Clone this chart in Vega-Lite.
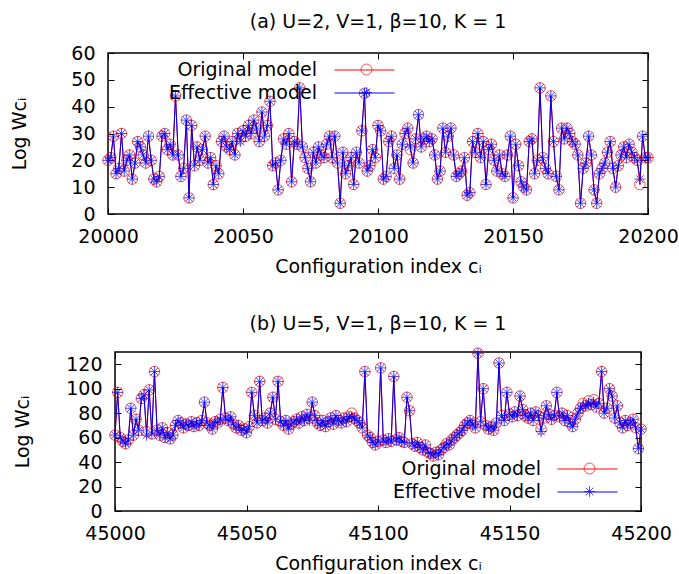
{
"$schema": "https://vega.github.io/schema/vega-lite/v6.json",
"padding": {"left": 10, "top": 12, "right": 4, "bottom": 2},
"config": {
  "font": "DejaVu Sans",
  "view": {"stroke": "black", "strokeWidth": 1.5},
  "axis": {"grid": false, "domain": false, "tickSize": -6, "tickColor": "black", "tickWidth": 1, "labelFontSize": 19, "labelColor": "black", "labelFlush": false, "labelOverlap": false, "titleFontSize": 19, "titleFontWeight": "normal", "titleColor": "black", "labelFont": "DejaVu Sans", "titleFont": "DejaVu Sans"},
  "title": {"fontSize": 19, "fontWeight": "normal", "color": "black", "offset": 12, "font": "DejaVu Sans"},
  "legend": {"orient": "none", "labelFontSize": 19, "labelColor": "black", "labelFont": "DejaVu Sans", "labelLimit": 400, "rowPadding": 3, "padding": 0, "symbolStrokeWidth": 1}
},
"datasets": {
"a": [
{"i":20000,"o":20,"e":20},{"i":20001,"o":21,"e":21},{"i":20002,"o":29,"e":29},{"i":20003,"o":15,"e":15},{"i":20004,"o":17,"e":17},{"i":20005,"o":30,"e":30},{"i":20006,"o":16,"e":16},{"i":20007,"o":20,"e":20},{"i":20008,"o":22,"e":22},{"i":20009,"o":13,"e":13},
{"i":20010,"o":19,"e":19},{"i":20011,"o":27,"e":27},{"i":20012,"o":25,"e":25},{"i":20013,"o":22,"e":22},{"i":20014,"o":19,"e":19},{"i":20015,"o":29,"e":29},{"i":20016,"o":20,"e":20},{"i":20017,"o":13,"e":13},{"i":20018,"o":12,"e":12},{"i":20019,"o":14,"e":14},
{"i":20020,"o":29,"e":29},{"i":20021,"o":30,"e":30},{"i":20022,"o":24,"e":24},{"i":20023,"o":26,"e":26},{"i":20024,"o":22,"e":22},{"i":20025,"o":44,"e":44},{"i":20026,"o":22,"e":22},{"i":20027,"o":14,"e":14},{"i":20028,"o":17,"e":17},{"i":20029,"o":35,"e":35},
{"i":20030,"o":6,"e":6},{"i":20031,"o":33,"e":33},{"i":20032,"o":18,"e":18},{"i":20033,"o":25,"e":25},{"i":20034,"o":20,"e":20},{"i":20035,"o":24,"e":24},{"i":20036,"o":29,"e":29},{"i":20037,"o":19,"e":19},{"i":20038,"o":21,"e":21},{"i":20039,"o":11,"e":11},
{"i":20040,"o":18,"e":18},{"i":20041,"o":15,"e":15},{"i":20042,"o":27,"e":27},{"i":20043,"o":29,"e":29},{"i":20044,"o":25,"e":25},{"i":20045,"o":24,"e":24},{"i":20046,"o":27,"e":27},{"i":20047,"o":22,"e":22},{"i":20048,"o":30,"e":30},{"i":20049,"o":28,"e":27},
{"i":20050,"o":31,"e":31},{"i":20051,"o":29,"e":29},{"i":20052,"o":33,"e":33},{"i":20053,"o":30,"e":30},{"i":20054,"o":35,"e":35},{"i":20055,"o":32,"e":32},{"i":20056,"o":27,"e":27},{"i":20057,"o":38,"e":38},{"i":20058,"o":29,"e":29},{"i":20059,"o":33,"e":33},
{"i":20060,"o":42,"e":42},{"i":20061,"o":18,"e":18},{"i":20062,"o":19,"e":19},{"i":20063,"o":9,"e":9},{"i":20064,"o":20,"e":20},{"i":20065,"o":28,"e":28},{"i":20066,"o":26,"e":26},{"i":20067,"o":30,"e":30},{"i":20068,"o":12,"e":12},{"i":20069,"o":27,"e":27},
{"i":20070,"o":26,"e":26},{"i":20071,"o":47,"e":47},{"i":20072,"o":25,"e":25},{"i":20073,"o":21,"e":21},{"i":20074,"o":17,"e":17},{"i":20075,"o":12,"e":12},{"i":20076,"o":23,"e":23},{"i":20077,"o":19,"e":19},{"i":20078,"o":25,"e":25},{"i":20079,"o":22,"e":22},
{"i":20080,"o":21,"e":21},{"i":20081,"o":26,"e":26},{"i":20082,"o":29,"e":29},{"i":20083,"o":21,"e":21},{"i":20084,"o":29,"e":29},{"i":20085,"o":19,"e":19},{"i":20086,"o":4,"e":4},{"i":20087,"o":23,"e":23},{"i":20088,"o":15,"e":15},{"i":20089,"o":18,"e":18},
{"i":20090,"o":21,"e":21},{"i":20091,"o":11,"e":11},{"i":20092,"o":23,"e":23},{"i":20093,"o":19,"e":19},{"i":20094,"o":31,"e":31},{"i":20095,"o":45,"e":45},{"i":20096,"o":16,"e":16},{"i":20097,"o":18,"e":18},{"i":20098,"o":24,"e":24},{"i":20099,"o":21,"e":21},
{"i":20100,"o":33,"e":33},{"i":20101,"o":31,"e":31},{"i":20102,"o":13,"e":13},{"i":20103,"o":14,"e":14},{"i":20104,"o":27,"e":27},{"i":20105,"o":29,"e":29},{"i":20106,"o":17,"e":17},{"i":20107,"o":22,"e":22},{"i":20108,"o":13,"e":13},{"i":20109,"o":26,"e":26},
{"i":20110,"o":30,"e":30},{"i":20111,"o":32,"e":32},{"i":20112,"o":24,"e":25},{"i":20113,"o":19,"e":19},{"i":20114,"o":28,"e":28},{"i":20115,"o":37,"e":37},{"i":20116,"o":25,"e":25},{"i":20117,"o":28,"e":28},{"i":20118,"o":29,"e":29},{"i":20119,"o":27,"e":27},
{"i":20120,"o":28,"e":28},{"i":20121,"o":22,"e":22},{"i":20122,"o":13,"e":13},{"i":20123,"o":16,"e":16},{"i":20124,"o":32,"e":32},{"i":20125,"o":23,"e":23},{"i":20126,"o":29,"e":29},{"i":20127,"o":32,"e":32},{"i":20128,"o":22,"e":22},{"i":20129,"o":14,"e":14},
{"i":20130,"o":15,"e":15},{"i":20131,"o":16,"e":16},{"i":20132,"o":21,"e":21},{"i":20133,"o":7,"e":7},{"i":20134,"o":8,"e":8},{"i":20135,"o":27,"e":27},{"i":20136,"o":23,"e":23},{"i":20137,"o":30,"e":30},{"i":20138,"o":21,"e":21},{"i":20139,"o":27,"e":27},
{"i":20140,"o":11,"e":11},{"i":20141,"o":24,"e":24},{"i":20142,"o":26,"e":26},{"i":20143,"o":20,"e":20},{"i":20144,"o":16,"e":16},{"i":20145,"o":22,"e":22},{"i":20146,"o":15,"e":15},{"i":20147,"o":14,"e":14},{"i":20148,"o":22,"e":22},{"i":20149,"o":29,"e":29},
{"i":20150,"o":6,"e":6},{"i":20151,"o":26,"e":26},{"i":20152,"o":18,"e":18},{"i":20153,"o":12,"e":12},{"i":20154,"o":10,"e":10},{"i":20155,"o":9,"e":9},{"i":20156,"o":27,"e":27},{"i":20157,"o":28,"e":28},{"i":20158,"o":15,"e":15},{"i":20159,"o":20,"e":20},
{"i":20160,"o":47,"e":47},{"i":20161,"o":21,"e":21},{"i":20162,"o":17,"e":17},{"i":20163,"o":15,"e":15},{"i":20164,"o":44,"e":44},{"i":20165,"o":27,"e":27},{"i":20166,"o":14,"e":14},{"i":20167,"o":9,"e":9},{"i":20168,"o":32,"e":32},{"i":20169,"o":28,"e":28},
{"i":20170,"o":32,"e":32},{"i":20171,"o":30,"e":30},{"i":20172,"o":27,"e":27},{"i":20173,"o":26,"e":26},{"i":20174,"o":22,"e":22},{"i":20175,"o":4,"e":4},{"i":20176,"o":17,"e":17},{"i":20177,"o":19,"e":19},{"i":20178,"o":29,"e":29},{"i":20179,"o":22,"e":22},
{"i":20180,"o":9,"e":9},{"i":20181,"o":4,"e":4},{"i":20182,"o":15,"e":15},{"i":20183,"o":17,"e":17},{"i":20184,"o":19,"e":19},{"i":20185,"o":23,"e":23},{"i":20186,"o":27,"e":27},{"i":20187,"o":17,"e":17},{"i":20188,"o":10,"e":10},{"i":20189,"o":18,"e":18},
{"i":20190,"o":22,"e":22},{"i":20191,"o":25,"e":25},{"i":20192,"o":21,"e":21},{"i":20193,"o":26,"e":26},{"i":20194,"o":23,"e":23},{"i":20195,"o":21,"e":21},{"i":20196,"o":20,"e":20},{"i":20197,"o":11,"e":13},{"i":20198,"o":29,"e":29},{"i":20199,"o":21,"e":21},
{"i":20200,"o":21,"e":21}
],
"b": [
{"i":45000,"o":62,"e":62},{"i":45001,"o":97,"e":97},{"i":45002,"o":60,"e":60},{"i":45003,"o":57,"e":57},{"i":45004,"o":55,"e":55},{"i":45005,"o":58,"e":58},{"i":45006,"o":84,"e":84},{"i":45007,"o":62,"e":62},{"i":45008,"o":75,"e":75},{"i":45009,"o":66,"e":66},
{"i":45010,"o":92,"e":92},{"i":45011,"o":95,"e":95},{"i":45012,"o":65,"e":62},{"i":45013,"o":99,"e":99},{"i":45014,"o":63,"e":63},{"i":45015,"o":114,"e":114},{"i":45016,"o":66,"e":66},{"i":45017,"o":62,"e":62},{"i":45018,"o":68,"e":68},{"i":45019,"o":60,"e":60},
{"i":45020,"o":64,"e":64},{"i":45021,"o":59,"e":59},{"i":45022,"o":62,"e":62},{"i":45023,"o":70,"e":70},{"i":45024,"o":74,"e":74},{"i":45025,"o":72,"e":72},{"i":45026,"o":68,"e":68},{"i":45027,"o":71,"e":71},{"i":45028,"o":70,"e":70},{"i":45029,"o":73,"e":73},
{"i":45030,"o":69,"e":69},{"i":45031,"o":72,"e":72},{"i":45032,"o":70,"e":70},{"i":45033,"o":74,"e":74},{"i":45034,"o":89,"e":89},{"i":45035,"o":72,"e":72},{"i":45036,"o":70,"e":70},{"i":45037,"o":67,"e":67},{"i":45038,"o":73,"e":73},{"i":45039,"o":72,"e":72},
{"i":45040,"o":75,"e":75},{"i":45041,"o":101,"e":101},{"i":45042,"o":76,"e":76},{"i":45043,"o":74,"e":74},{"i":45044,"o":77,"e":77},{"i":45045,"o":71,"e":71},{"i":45046,"o":68,"e":68},{"i":45047,"o":70,"e":70},{"i":45048,"o":66,"e":66},{"i":45049,"o":67,"e":67},
{"i":45050,"o":64,"e":64},{"i":45051,"o":69,"e":69},{"i":45052,"o":97,"e":97},{"i":45053,"o":78,"e":78},{"i":45054,"o":72,"e":72},{"i":45055,"o":106,"e":106},{"i":45056,"o":74,"e":74},{"i":45057,"o":76,"e":76},{"i":45058,"o":72,"e":72},{"i":45059,"o":80,"e":80},
{"i":45060,"o":93,"e":93},{"i":45061,"o":75,"e":75},{"i":45062,"o":106,"e":106},{"i":45063,"o":73,"e":73},{"i":45064,"o":70,"e":70},{"i":45065,"o":74,"e":74},{"i":45066,"o":67,"e":67},{"i":45067,"o":71,"e":71},{"i":45068,"o":73,"e":73},{"i":45069,"o":75,"e":75},
{"i":45070,"o":72,"e":72},{"i":45071,"o":77,"e":77},{"i":45072,"o":74,"e":74},{"i":45073,"o":79,"e":79},{"i":45074,"o":76,"e":74},{"i":45075,"o":89,"e":89},{"i":45076,"o":78,"e":78},{"i":45077,"o":72,"e":72},{"i":45078,"o":70,"e":70},{"i":45079,"o":74,"e":74},
{"i":45080,"o":69,"e":69},{"i":45081,"o":73,"e":73},{"i":45082,"o":76,"e":76},{"i":45083,"o":71,"e":71},{"i":45084,"o":78,"e":78},{"i":45085,"o":74,"e":74},{"i":45086,"o":72,"e":72},{"i":45087,"o":76,"e":76},{"i":45088,"o":73,"e":73},{"i":45089,"o":77,"e":77},
{"i":45090,"o":80,"e":77},{"i":45091,"o":76,"e":76},{"i":45092,"o":74,"e":74},{"i":45093,"o":72,"e":72},{"i":45094,"o":68,"e":68},{"i":45095,"o":114,"e":114},{"i":45096,"o":62,"e":62},{"i":45097,"o":60,"e":60},{"i":45098,"o":56,"e":56},{"i":45099,"o":54,"e":54},
{"i":45100,"o":57,"e":57},{"i":45101,"o":117,"e":117},{"i":45102,"o":58,"e":58},{"i":45103,"o":56,"e":56},{"i":45104,"o":59,"e":59},{"i":45105,"o":57,"e":57},{"i":45106,"o":110,"e":110},{"i":45107,"o":58,"e":58},{"i":45108,"o":60,"e":60},{"i":45109,"o":57,"e":57},
{"i":45110,"o":56,"e":56},{"i":45111,"o":93,"e":93},{"i":45112,"o":82,"e":82},{"i":45113,"o":55,"e":55},{"i":45114,"o":53,"e":53},{"i":45115,"o":56,"e":56},{"i":45116,"o":52,"e":52},{"i":45117,"o":50,"e":50},{"i":45118,"o":54,"e":54},{"i":45119,"o":48,"e":48},
{"i":45120,"o":47,"e":47},{"i":45121,"o":45,"e":45},{"i":45122,"o":48,"e":48},{"i":45123,"o":46,"e":46},{"i":45124,"o":50,"e":50},{"i":45125,"o":52,"e":52},{"i":45126,"o":55,"e":55},{"i":45127,"o":54,"e":54},{"i":45128,"o":58,"e":58},{"i":45129,"o":60,"e":60},
{"i":45130,"o":62,"e":62},{"i":45131,"o":64,"e":64},{"i":45132,"o":66,"e":66},{"i":45133,"o":70,"e":70},{"i":45134,"o":72,"e":72},{"i":45135,"o":74,"e":74},{"i":45136,"o":71,"e":71},{"i":45137,"o":68,"e":68},{"i":45138,"o":129,"e":129},{"i":45139,"o":73,"e":73},
{"i":45140,"o":100,"e":100},{"i":45141,"o":70,"e":70},{"i":45142,"o":67,"e":67},{"i":45143,"o":69,"e":69},{"i":45144,"o":66,"e":66},{"i":45145,"o":72,"e":72},{"i":45146,"o":121,"e":121},{"i":45147,"o":78,"e":78},{"i":45148,"o":74,"e":74},{"i":45149,"o":97,"e":97},
{"i":45150,"o":79,"e":79},{"i":45151,"o":77,"e":77},{"i":45152,"o":81,"e":81},{"i":45153,"o":78,"e":78},{"i":45154,"o":94,"e":94},{"i":45155,"o":83,"e":83},{"i":45156,"o":78,"e":78},{"i":45157,"o":76,"e":76},{"i":45158,"o":80,"e":80},{"i":45159,"o":74,"e":74},
{"i":45160,"o":81,"e":81},{"i":45161,"o":78,"e":78},{"i":45162,"o":67,"e":65},{"i":45163,"o":76,"e":76},{"i":45164,"o":86,"e":86},{"i":45165,"o":79,"e":79},{"i":45166,"o":75,"e":75},{"i":45167,"o":78,"e":78},{"i":45168,"o":97,"e":97},{"i":45169,"o":77,"e":77},
{"i":45170,"o":80,"e":80},{"i":45171,"o":74,"e":74},{"i":45172,"o":78,"e":78},{"i":45173,"o":72,"e":72},{"i":45174,"o":69,"e":69},{"i":45175,"o":75,"e":75},{"i":45176,"o":80,"e":80},{"i":45177,"o":84,"e":84},{"i":45178,"o":88,"e":86},{"i":45179,"o":86,"e":86},
{"i":45180,"o":90,"e":88},{"i":45181,"o":87,"e":87},{"i":45182,"o":91,"e":89},{"i":45183,"o":85,"e":85},{"i":45184,"o":88,"e":88},{"i":45185,"o":114,"e":114},{"i":45186,"o":80,"e":80},{"i":45187,"o":84,"e":84},{"i":45188,"o":100,"e":100},{"i":45189,"o":94,"e":94},
{"i":45190,"o":76,"e":76},{"i":45191,"o":86,"e":86},{"i":45192,"o":72,"e":72},{"i":45193,"o":68,"e":68},{"i":45194,"o":74,"e":74},{"i":45195,"o":70,"e":70},{"i":45196,"o":72,"e":72},{"i":45197,"o":75,"e":75},{"i":45198,"o":68,"e":68},{"i":45199,"o":51,"e":51},
{"i":45200,"o":67,"e":67}
]
},
"columns": 1,
"center": true,
"spacing": 36,
"concat": [
{
  "title": "(a) U=2, V=1, β=10, K = 1",
  "width": 540, "height": 161,
  "data": {"name": "a"},
  "layer": [
    {"mark": {"type": "line", "strokeWidth": 1},
     "encoding": {
       "x": {"field": "i", "type": "quantitative", "scale": {"domain": [20000, 20200], "nice": false, "zero": false}, "axis": {"values": [20000, 20050, 20100, 20150, 20200], "format": "d", "title": "Configuration index cᵢ", "labelPadding": 19, "titlePadding": 11}},
       "y": {"field": "o", "type": "quantitative", "scale": {"domain": [0, 60], "nice": false}, "axis": {"values": [0, 10, 20, 30, 40, 50, 60], "title": "Log Wcᵢ", "labelPadding": 19, "titlePadding": 41}},
       "stroke": {"datum": "Lo", "scale": {"domain": ["Lo", "Le"], "range": ["#ff0000", "#0000ff"]},
         "legend": {"title": null, "legendX": 226, "legendY": 7, "symbolType": "stroke", "symbolSize": 3600, "clipHeight": 20, "labelExpr": "''"}}
     }},
    {"mark": {"type": "point", "filled": false, "size": 110, "strokeWidth": 1},
     "encoding": {
       "x": {"field": "i", "type": "quantitative", "axis": null},
       "y": {"field": "o", "type": "quantitative", "axis": null},
       "color": {"datum": "Original model", "scale": {"domain": ["Original model", "Effective model"], "range": ["#ff0000", "#0000ff"]},
         "legend": {"title": null, "legendX": 249, "legendY": 7, "symbolSize": 120, "labelAlign": "right", "labelOffset": -59}},
       "shape": {"datum": "Original model", "scale": {"domain": ["Original model", "Effective model"], "range": ["circle", "M-1,0L1,0M0,-1L0,1M-0.7,-0.7L0.7,0.7M-0.7,0.7L0.7,-0.7"]},
         "legend": {"title": null, "legendX": 249, "legendY": 7, "symbolSize": 120, "labelAlign": "right", "labelOffset": -59}}
     }},
    {"mark": {"type": "line", "strokeWidth": 1},
     "encoding": {
       "x": {"field": "i", "type": "quantitative", "axis": null},
       "y": {"field": "e", "type": "quantitative", "axis": null},
       "stroke": {"datum": "Le"}
     }},
    {"mark": {"type": "point", "filled": false, "size": 120, "strokeWidth": 1},
     "encoding": {
       "x": {"field": "i", "type": "quantitative", "axis": {"orient": "top", "labels": false, "title": null, "values": [20000, 20050, 20100, 20150, 20200]}},
       "y": {"field": "e", "type": "quantitative", "axis": {"orient": "right", "labels": false, "title": null, "values": [0, 10, 20, 30, 40, 50, 60]}},
       "color": {"datum": "Effective model"},
       "shape": {"datum": "Effective model"}
     }}
  ],
  "resolve": {"axis": {"x": "independent", "y": "independent"}}
},
{
  "title": "(b) U=5, V=1, β=10, K = 1",
  "width": 526, "height": 159,
  "data": {"name": "b"},
  "layer": [
    {"mark": {"type": "line", "strokeWidth": 1},
     "encoding": {
       "x": {"field": "i", "type": "quantitative", "scale": {"domain": [45000, 45200], "nice": false, "zero": false}, "axis": {"values": [45000, 45050, 45100, 45150, 45200], "format": "d", "title": "Configuration index cᵢ", "labelPadding": 19, "titlePadding": 11}},
       "y": {"field": "o", "type": "quantitative", "scale": {"domain": [0, 130], "nice": false}, "axis": {"values": [0, 20, 40, 60, 80, 100, 120], "title": "Log Wcᵢ", "labelPadding": 19, "titlePadding": 33}},
       "stroke": {"datum": "Lo", "scale": {"domain": ["Lo", "Le"], "range": ["#ff0000", "#0000ff"]},
         "legend": {"title": null, "legendX": 442, "legendY": 107, "symbolType": "stroke", "symbolSize": 3600, "clipHeight": 20, "labelExpr": "''"}}
     }},
    {"mark": {"type": "point", "filled": false, "size": 110, "strokeWidth": 1},
     "encoding": {
       "x": {"field": "i", "type": "quantitative", "axis": null},
       "y": {"field": "o", "type": "quantitative", "axis": null},
       "color": {"datum": "Original model", "scale": {"domain": ["Original model", "Effective model"], "range": ["#ff0000", "#0000ff"]},
         "legend": {"title": null, "legendX": 465, "legendY": 107, "symbolSize": 120, "labelAlign": "right", "labelOffset": -58}},
       "shape": {"datum": "Original model", "scale": {"domain": ["Original model", "Effective model"], "range": ["circle", "M-1,0L1,0M0,-1L0,1M-0.7,-0.7L0.7,0.7M-0.7,0.7L0.7,-0.7"]},
         "legend": {"title": null, "legendX": 465, "legendY": 107, "symbolSize": 120, "labelAlign": "right", "labelOffset": -58}}
     }},
    {"mark": {"type": "line", "strokeWidth": 1},
     "encoding": {
       "x": {"field": "i", "type": "quantitative", "axis": null},
       "y": {"field": "e", "type": "quantitative", "axis": null},
       "stroke": {"datum": "Le"}
     }},
    {"mark": {"type": "point", "filled": false, "size": 120, "strokeWidth": 1},
     "encoding": {
       "x": {"field": "i", "type": "quantitative", "axis": {"orient": "top", "labels": false, "title": null, "values": [45000, 45050, 45100, 45150, 45200]}},
       "y": {"field": "e", "type": "quantitative", "axis": {"orient": "right", "labels": false, "title": null, "values": [0, 20, 40, 60, 80, 100, 120]}},
       "color": {"datum": "Effective model"},
       "shape": {"datum": "Effective model"}
     }}
  ],
  "resolve": {"axis": {"x": "independent", "y": "independent"}}
}
],
"resolve": {"scale": {"color": "independent", "shape": "independent", "stroke": "independent"}, "legend": {"color": "independent", "shape": "independent", "stroke": "independent"}}
}
